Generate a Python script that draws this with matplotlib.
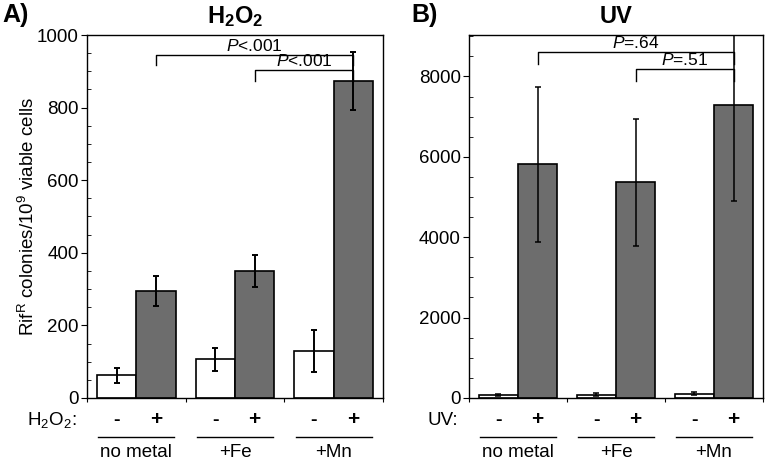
import matplotlib
matplotlib.use("Agg")
import matplotlib.pyplot as plt
import matplotlib.transforms as mtransforms
from matplotlib.ticker import MultipleLocator
import numpy as np

plt.rcParams['font.family'] = ['Liberation Sans', 'DejaVu Sans']
plt.rcParams['mathtext.fontset'] = 'custom'
plt.rcParams['mathtext.rm'] = 'Liberation Sans'
plt.rcParams['mathtext.it'] = 'Liberation Sans:italic'
plt.rcParams['mathtext.bf'] = 'Liberation Sans:bold'

groups = ["no metal", "+Fe", "+Mn"]

# panel A: H2O2
h2o2_minus = [62, 107, 130]
h2o2_minus_err = [22, 32, 58]
h2o2_plus = [294, 350, 873]
h2o2_plus_err = [41, 43, 80]

# panel B: UV
uv_minus = [80, 85, 110]
uv_minus_err = [20, 40, 45]
uv_plus = [5810, 5370, 7280]
uv_plus_err = [1930, 1580, 2370]

# comparisons: (from group, to group, p text)
h2o2_pvals = [(0, 2, "$P$<.001"), (1, 2, "$P$<.001")]
uv_pvals = [(0, 2, "$P$=.64"), (1, 2, "$P$=.51")]

gray = '#6d6d6d'
w = 0.4

fig = plt.figure(figsize=(7.66, 4.63), dpi=100)
axA = fig.add_axes([0.1136, 0.1404, 0.3864, 0.784])
axB = fig.add_axes([0.6123, 0.1404, 0.3838, 0.784])


def draw_panel(ax, minus, minus_err, plus, plus_err, ylim, major, minor,
               pvals, br_y, leg, pad, treat, elw):
    x = np.arange(len(groups))
    ax.bar(x - w / 2, minus, w, color='white', edgecolor='black', lw=1.2)
    ax.bar(x + w / 2, plus, w, color=gray, edgecolor='black', lw=1.2)
    ax.errorbar(x - w / 2, minus, yerr=minus_err, fmt='none', ecolor='black',
                elinewidth=elw, capsize=2.2, capthick=elw)
    ax.errorbar(x + w / 2, plus, yerr=plus_err, fmt='none', ecolor='black',
                elinewidth=elw, capsize=2.2, capthick=elw)
    ax.set_xlim(-0.5, 2.5)
    ax.set_ylim(*ylim)
    ax.yaxis.set_major_locator(MultipleLocator(major))
    ax.yaxis.set_minor_locator(MultipleLocator(minor))
    ax.tick_params(axis='y', which='major', direction='out', length=4,
                   labelsize=13.5, pad=2)
    ax.tick_params(axis='y', which='minor', direction='in', length=3)
    ax.set_xticks([-0.5, 0.5, 1.5, 2.5])
    ax.set_xticklabels([])
    ax.tick_params(axis='x', direction='out', length=3)
    for s in ax.spines.values():
        s.set_linewidth(1.0)

    # significance brackets
    for (a, b, txt), yb in zip(pvals, br_y):
        xa, xb = a + w / 2, b + w / 2
        ax.plot([xa, xa, xb, xb], [yb - leg, yb, yb, yb - leg],
                color='black', lw=1.0)
        ax.text((xa + xb) / 2, yb + pad, txt, ha='center', va='baseline',
                fontsize=12.5)

    # treatment row and group labels below the axis
    tr = mtransforms.blended_transform_factory(ax.transData, ax.transAxes)
    ax.text(-0.61, -0.074, treat, transform=tr, ha='right', va='baseline',
            fontsize=13.5)
    for i, g in enumerate(groups):
        ax.text(i - w / 2, -0.074, '-', transform=tr, ha='center',
                va='baseline', fontsize=14, fontweight='bold')
        ax.text(i + w / 2, -0.074, '+', transform=tr, ha='center',
                va='baseline', fontsize=15, fontweight='bold')
        ax.plot([i - 0.385, i + 0.385], [-0.107, -0.107], transform=tr,
                color='black', lw=1.0, clip_on=False)
        ax.text(i, -0.174, g, transform=tr, ha='center', va='bottom',
                fontsize=13.5)


draw_panel(axA, h2o2_minus, h2o2_minus_err, h2o2_plus, h2o2_plus_err,
           (0, 1000), 200, 50, h2o2_pvals, [946, 903], 30, 11,
           'H$_2$O$_2$:', 1.4)
draw_panel(axB, uv_minus, uv_minus_err, uv_plus, uv_plus_err,
           (0, 9030), 2000, 500, uv_pvals, [8600, 8180], 290, 100,
           'UV:', 1.1)

axA.set_ylabel(r'Rif$^{\mathrm{R}}$ colonies/10$^{9}$ viable cells',
               fontsize=13.5)
axA.yaxis.set_label_coords(-0.166, 0.5)

fig.text(0.307, 0.965, r'$\mathbf{H_2O_2}$', ha='center', va='center',
         fontsize=17)
fig.text(0.804, 0.965, 'UV', ha='center', va='center', fontsize=17,
         fontweight='bold')
fig.text(0.003, 0.968, 'A)', ha='left', va='center', fontsize=18,
         fontweight='bold')
fig.text(0.537, 0.968, 'B)', ha='left', va='center', fontsize=18,
         fontweight='bold')

fig.savefig('out.png', dpi=100)
